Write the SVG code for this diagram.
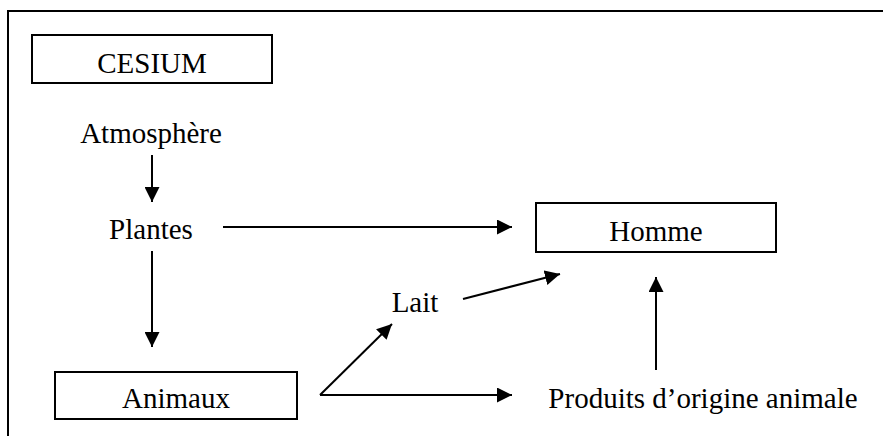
<svg xmlns="http://www.w3.org/2000/svg" width="883" height="436" viewBox="0 0 883 436">
  <style>
    .frame { fill: none; stroke: #000; stroke-width: 2; }
    .box { fill: #fff; stroke: #000; stroke-width: 2; }
    .lbl { font-family: "Liberation Serif", "Times New Roman", serif; font-size: 29px; fill: #000; text-anchor: middle; }
    .edge { fill: none; stroke: #000; stroke-width: 2; }
  </style>
  <defs>
    <marker id="arrow" viewBox="0 0 15 15" refX="15" refY="7.5" markerWidth="15" markerHeight="15" markerUnits="userSpaceOnUse" orient="auto">
      <path d="M0,0 L15,7.5 L0,15 z" fill="#000"/>
    </marker>
  </defs>

  <rect width="883" height="436" fill="#fff"/>
  <!-- surrounding frame, open to the right and bottom -->
  <path class="frame" d="M8,436 V11 H883"/>

  <g id="cesium">
    <rect class="box" x="32" y="35" width="240" height="48"/>
    <text class="lbl" x="152" y="73">CESIUM</text>
  </g>
  <g id="atmosphere">
    <text class="lbl" x="151" y="143">Atmosphère</text>
  </g>
  <g id="plantes">
    <text class="lbl" x="151" y="239">Plantes</text>
  </g>
  <g id="homme">
    <rect class="box" x="536" y="203" width="240" height="49"/>
    <text class="lbl" x="656" y="241">Homme</text>
  </g>
  <g id="lait">
    <text class="lbl" x="415" y="312">Lait</text>
  </g>
  <g id="animaux">
    <rect class="box" x="55" y="372" width="242" height="47"/>
    <text class="lbl" x="176" y="408">Animaux</text>
  </g>
  <g id="produits">
    <text class="lbl" x="703" y="408">Produits d’origine animale</text>
  </g>

  <g id="connectors">
    <line class="edge" x1="152" y1="155" x2="152" y2="202" marker-end="url(#arrow)"/>
    <line class="edge" x1="223" y1="227" x2="512" y2="227" marker-end="url(#arrow)"/>
    <line class="edge" x1="152" y1="251" x2="152" y2="347" marker-end="url(#arrow)"/>
    <line class="edge" x1="320" y1="395" x2="512" y2="395" marker-end="url(#arrow)"/>
    <line class="edge" x1="320" y1="395" x2="392" y2="324" marker-end="url(#arrow)"/>
    <line class="edge" x1="463" y1="299" x2="560" y2="274" marker-end="url(#arrow)"/>
    <line class="edge" x1="656" y1="370" x2="656" y2="277" marker-end="url(#arrow)"/>
  </g>
</svg>
